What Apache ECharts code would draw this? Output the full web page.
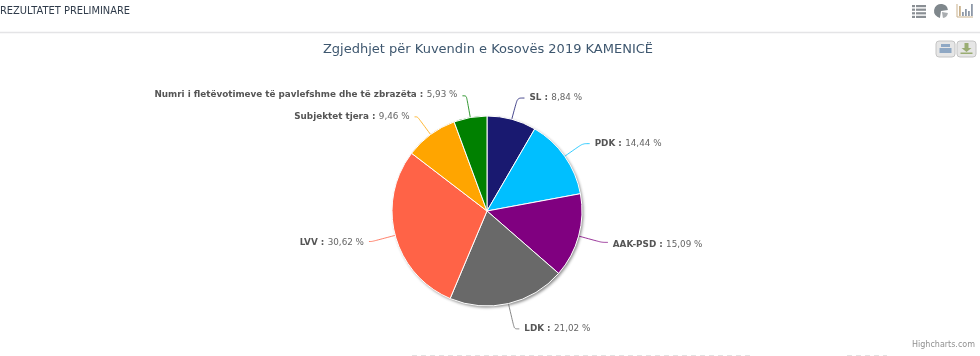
<!DOCTYPE html>
<html>
<head>
<meta charset="utf-8">
<style>
  html, body { margin: 0; padding: 0; background: #fff; }
  #chart { width: 980px; height: 356px; }
</style>
<script src="https://cdn.jsdelivr.net/npm/echarts@6/dist/echarts.min.js"></script>
</head>
<body>
<div id="chart"></div>
<script>
const categories = ['SL', 'PDK', 'AAK-PSD', 'LDK', 'LVV', 'Subjektet tjera', 'Numri i fletëvotimeve të pavlefshme dhe të zbrazëta'];
const values = [8.84, 14.44, 15.09, 21.02, 30.62, 9.46, 5.93];
const colors = ['#191970', '#00BFFF', '#800080', '#696969', '#FF6347', '#FFA500', '#008000'];
// connector lengths per slice, so the labels land where they do in the picture
const lineLength = [22, 22, 24, 26, 24, 22, 22];
const lineLength2 = [7, 7, 6, 5, 3, 3, 4];
const labelDy = [0, 0, 2, 0, 1, 0, -1];
const fontFamily = '"DejaVu Sans", Verdana, sans-serif';

const chart = echarts.init(document.getElementById('chart'), null, { renderer: 'canvas' });

function fmt(v) {
  return v.toFixed(2).replace('.', ',') + ' %';
}

// small toolbar icons, top right and the two export buttons
function listIcon() {
  const out = [];
  for (let i = 0; i < 4; i++) {
    out.push({ type: 'rect', shape: { x: 912, y: 5 + i * 3.6, width: 3, height: 2.2 }, style: { fill: '#8a8f94' } });
    out.push({ type: 'rect', shape: { x: 916, y: 5 + i * 3.6, width: 10, height: 2.2 }, style: { fill: '#8a8f94' } });
  }
  return out;
}
function barIcon() {
  const out = [];
  const hs = [10, 4, 7, 5, 12];
  hs.forEach((h, i) => {
    out.push({ type: 'rect', shape: { x: 959 + i * 3, y: 16 - h, width: 1.8, height: h }, style: { fill: i === 0 ? '#c9b18c' : '#8e99a8' } });
  });
  out.push({ type: 'line', shape: { x1: 957, y1: 17, x2: 973, y2: 17 }, style: { stroke: '#c9b18c', lineWidth: 1 } });
  out.push({ type: 'line', shape: { x1: 957, y1: 4, x2: 957, y2: 17 }, style: { stroke: '#c9b18c', lineWidth: 1 } });
  return out;
}
function exportButton(x) {
  return { type: 'rect', shape: { x: x, y: 41, width: 19, height: 16, r: 3 }, style: { fill: '#e6e6e6', stroke: '#c4c4c4', lineWidth: 1 } };
}

const graphics = [
  { type: 'text', left: 0, top: 6, style: { text: 'REZULTATET PRELIMINARE', font: '9.9px ' + fontFamily, fill: '#2f3b4a' } },
  { type: 'line', shape: { x1: 0, y1: 32.5, x2: 980, y2: 32.5 }, style: { stroke: '#e4e4e6', lineWidth: 1.5 } },
  { type: 'text', right: 5, top: 341, style: { text: 'Highcharts.com', font: '8px ' + fontFamily, fill: '#909090' } },
  // cut off line of page text at the bottom edge, not readable in the picture
  { type: 'line', shape: { x1: 412, y1: 355.5, x2: 753, y2: 355.5 }, style: { stroke: '#e2e2e2', lineWidth: 1, lineDash: [5, 4] } },
  { type: 'line', shape: { x1: 847, y1: 355.5, x2: 887, y2: 355.5 }, style: { stroke: '#e2e2e2', lineWidth: 1, lineDash: [5, 4] } },
  { type: 'sector', shape: { cx: 941, cy: 11, r: 7, r0: 0, startAngle: Math.PI * 0.55, endAngle: Math.PI * 1.95 }, style: { fill: '#7f878c' } },
  { type: 'sector', shape: { cx: 942, cy: 12, r: 6, r0: 0, startAngle: Math.PI * 0.05, endAngle: Math.PI * 0.45 }, style: { fill: '#a9adb0' } },
  exportButton(936),
  exportButton(957),
  { type: 'rect', shape: { x: 941, y: 44, width: 9, height: 3 }, style: { fill: '#8fa8c4' } },
  { type: 'rect', shape: { x: 939.5, y: 48, width: 12, height: 5 }, style: { fill: '#8fa8c4' } },
  { type: 'rect', shape: { x: 964.5, y: 43, width: 4, height: 5 }, style: { fill: '#9aad72' } },
  { type: 'polygon', shape: { points: [[961.5, 48], [971.5, 48], [966.5, 52]] }, style: { fill: '#9aad72' } },
  { type: 'rect', shape: { x: 960.5, y: 52.5, width: 12, height: 1.5 }, style: { fill: '#9aad72' } }
].concat(listIcon(), barIcon());

const pieData = categories.map((c, i) => ({
  name: c,
  value: values[i],
  labelLine: { length: lineLength[i], length2: lineLength2[i] }
}));

chart.setOption({
  animation: false,
  color: colors,
  title: {
    text: 'Zgjedhjet për Kuvendin e Kosovës 2019 KAMENICË',
    left: 483,
    top: 38,
    textAlign: 'center',
    textStyle: { fontFamily: fontFamily, fontSize: 13, fontWeight: 'normal', color: '#3e576f' }
  },
  graphic: graphics,
  series: [{
    // same pie underneath, only for the soft edge shadow
    type: 'pie',
    silent: true,
    z: 1,
    center: [487, 211],
    radius: [0, 95],
    startAngle: 90,
    data: categories.map((c, i) => ({ name: c, value: values[i] })),
    itemStyle: {
      color: '#bbb',
      shadowBlur: 3,
      shadowColor: 'rgba(0,0,0,0.45)',
      shadowOffsetX: 1.5,
      shadowOffsetY: 1.5
    },
    label: { show: false },
    labelLine: { show: false }
  }, {
    type: 'pie',
    z: 2,
    center: [487, 211],
    radius: [0, 95],
    startAngle: 90,
    clockwise: true,
    data: pieData,
    itemStyle: { borderColor: '#fff', borderWidth: 1 },
    label: {
      show: true,
      formatter: function (p) {
        return '{b|' + p.name + ' :} {v|' + fmt(values[p.dataIndex]) + '}';
      },
      rich: {
        b: { fontFamily: fontFamily, fontSize: 8.8, fontWeight: 'bold', color: '#555' },
        v: { fontFamily: fontFamily, fontSize: 8.8, color: '#666' }
      }
    },
    labelLine: { show: true, smooth: 0.3, lineStyle: { width: 1, opacity: 0.8 } },
    labelLayout: function (params) {
      return { dy: labelDy[params.dataIndex] };
    }
  }]
});
</script>
</body>
</html>
